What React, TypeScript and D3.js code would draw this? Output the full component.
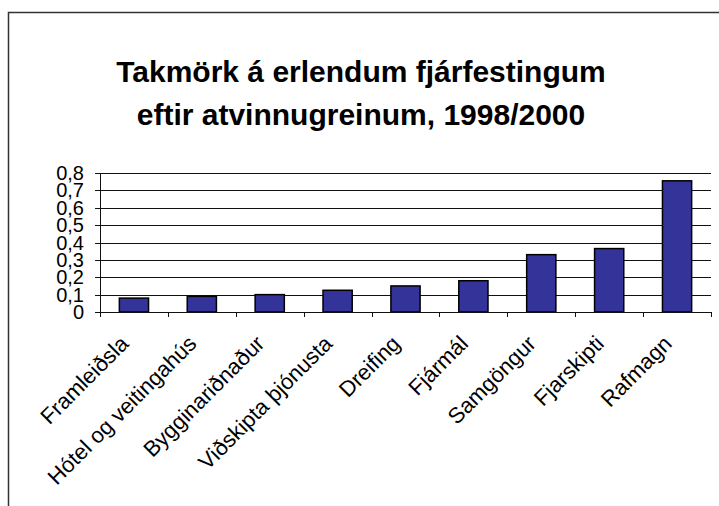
import React, { useEffect, useRef } from "react";
import * as d3 from "d3";

const categories = [
  "Framleiðsla",
  "Hótel og veitingahús",
  "Bygginariðnaður",
  "Viðskipta þjónusta",
  "Dreifing",
  "Fjármál",
  "Samgöngur",
  "Fjarskipti",
  "Rafmagn",
];
const values = [0.08, 0.09, 0.1, 0.125, 0.15, 0.18, 0.33, 0.365, 0.755];
const yTicks = [0, 0.1, 0.2, 0.3, 0.4, 0.5, 0.6, 0.7, 0.8];
const titleLines = [
  "Takmörk á erlendum fjárfestingum",
  "eftir atvinnugreinum, 1998/2000",
];

function App() {
  const ref = useRef<SVGSVGElement>(null);

  useEffect(() => {
    const width = 719,
      height = 506;
    const margin = { top: 173, right: 8, bottom: 194, left: 100 };
    const font = "'Liberation Sans', Arial, sans-serif";

    const svg = d3.select(ref.current);
    svg.selectAll("*").remove();

    // outer chart border (right and bottom edges are off the picture)
    svg
      .append("rect")
      .attr("x", 8.5)
      .attr("y", 12.5)
      .attr("width", 800)
      .attr("height", 600)
      .attr("fill", "white")
      .attr("stroke", "#333")
      .attr("stroke-width", 1.5);

    svg
      .append("g")
      .selectAll("text")
      .data(titleLines)
      .enter()
      .append("text")
      .attr("x", 361)
      .attr("y", (d, i) => 82 + i * 43)
      .attr("text-anchor", "middle")
      .style("font-family", font)
      .style("font-weight", "bold")
      .style("font-size", "30px")
      .text((d) => d);

    const x = d3
      .scaleBand()
      .domain(categories)
      .range([margin.left, width - margin.right])
      .paddingInner(0.57)
      .paddingOuter(0.285);
    const y = d3
      .scaleLinear()
      .domain([0, 0.8])
      .range([height - margin.bottom, margin.top]);

    const step = x.step();
    const x0 = margin.left;
    const x1 = width - margin.right;

    // gridlines
    svg
      .append("g")
      .selectAll("line")
      .data(yTicks.filter((d) => d > 0))
      .enter()
      .append("line")
      .attr("x1", x0)
      .attr("x2", x1)
      .attr("y1", (d) => Math.round(y(d)) + 0.5)
      .attr("y2", (d) => Math.round(y(d)) + 0.5)
      .attr("stroke", "#111")
      .attr("stroke-width", 1);

    // bars
    svg
      .append("g")
      .selectAll("rect")
      .data(values)
      .enter()
      .append("rect")
      .attr("x", (d, i) => x(categories[i]))
      .attr("y", (d) => y(d))
      .attr("width", x.bandwidth())
      .attr("height", (d) => y(0) - y(d))
      .attr("fill", "#333399")
      .attr("stroke", "#000")
      .attr("stroke-width", 1.5);

    // y axis
    const yAxis = svg.append("g");
    yAxis
      .append("line")
      .attr("x1", x0 + 0.5)
      .attr("x2", x0 + 0.5)
      .attr("y1", y(0.8))
      .attr("y2", y(0))
      .attr("stroke", "#111");
    yAxis
      .selectAll(".tick")
      .data(yTicks)
      .enter()
      .append("line")
      .attr("x1", x0 - 5)
      .attr("x2", x0)
      .attr("y1", (d) => Math.round(y(d)) + 0.5)
      .attr("y2", (d) => Math.round(y(d)) + 0.5)
      .attr("stroke", "#111");
    yAxis
      .selectAll("text")
      .data(yTicks)
      .enter()
      .append("text")
      .attr("x", 84)
      .attr("y", (d) => y(d) + 7)
      .attr("text-anchor", "end")
      .style("font-family", font)
      .style("font-size", "20px")
      .text((d) => d3.format(".1~f")(d).replace(".", ","));

    // x axis
    const xAxis = svg.append("g");
    xAxis
      .append("line")
      .attr("x1", x0 - 5)
      .attr("x2", x1)
      .attr("y1", Math.round(y(0)) + 0.5)
      .attr("y2", Math.round(y(0)) + 0.5)
      .attr("stroke", "#111");
    xAxis
      .selectAll(".tick")
      .data(d3.range(categories.length + 1))
      .enter()
      .append("line")
      .attr("x1", (i) => Math.round(x0 + i * step) + 0.5)
      .attr("x2", (i) => Math.round(x0 + i * step) + 0.5)
      .attr("y1", y(0))
      .attr("y2", y(0) + 5)
      .attr("stroke", "#111");
    xAxis
      .selectAll("text")
      .data(categories)
      .enter()
      .append("text")
      .attr(
        "transform",
        (d) =>
          "translate(" +
          (x(d) + x.bandwidth() / 2 - 4) +
          "," +
          (y(0) + 33) +
          ") rotate(-45)"
      )
      .attr("text-anchor", "end")
      .style("font-family", font)
      .style("font-size", "22px")
      .text((d) => d);
  }, []);

  return (
    <svg
      ref={ref}
      width={719}
      height={506}
      style={{ position: "absolute", left: 0, top: 0, background: "white" }}
    ></svg>
  );
}

export default App;
